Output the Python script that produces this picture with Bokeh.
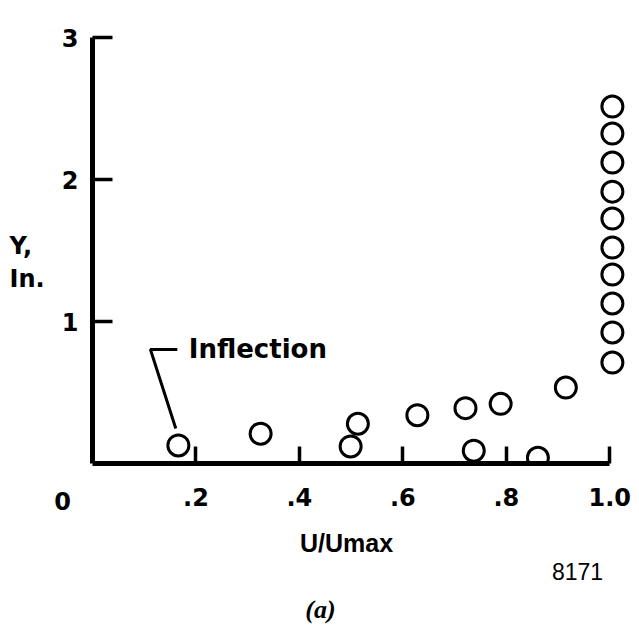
from bokeh.plotting import figure
from bokeh.models import Label, FixedTicker, Range1d
from bokeh.embed import file_html
from bokeh.resources import INLINE

# Data
u_ratio = [0.166, 0.325, 0.499, 0.513, 0.628, 0.721, 0.789, 0.737, 0.861, 0.915,
           1.005, 1.005, 1.005, 1.005, 1.005, 1.005, 1.005, 1.005, 1.005, 1.005]
y_in = [0.127, 0.21, 0.12, 0.28, 0.34, 0.39, 0.42, 0.09, 0.04, 0.535,
        0.711, 0.923, 1.127, 1.331, 1.521, 1.725, 1.915, 2.120, 2.324, 2.514]

x_ticks = [0.2, 0.4, 0.6, 0.8, 1.0]
x_tick_labels = [".2", ".4", ".6", ".8", "1.0"]
y_ticks = [1, 2, 3]

# Leader line of the "Inflection" note (data units)
leader_x = [0.164, 0.112, 0.161]
leader_y = [0.803, 0.803, 0.246]

p = figure(width=631, height=629, output_backend="svg", toolbar_location=None,
           x_range=Range1d(0, 1.04), y_range=Range1d(0, 3.05),
           min_border_left=92, min_border_right=1, min_border_top=30,
           min_border_bottom=166)
p.outline_line_color = None
p.xgrid.visible = False
p.ygrid.visible = False
p.background_fill_color = "white"
p.border_fill_color = "white"

for ax in (p.xaxis[0], p.yaxis[0]):
    ax.axis_line_width = 5
    ax.axis_line_color = "black"
    ax.major_tick_line_width = 3.5
    ax.major_tick_line_color = "black"
    ax.major_tick_out = 0
    ax.minor_tick_line_color = None
    ax.major_label_text_font = "DejaVu Sans"
    ax.major_label_text_font_style = "bold"
    ax.major_label_text_font_size = "24px"
    ax.major_label_text_color = "black"

p.xaxis[0].ticker = FixedTicker(ticks=x_ticks)
p.xaxis[0].major_label_overrides = {t: l for t, l in zip(x_ticks, x_tick_labels)}
p.xaxis[0].major_tick_in = 17
p.xaxis[0].major_label_standoff = 24
p.xaxis[0].bounds = (0, 1.0)

p.yaxis[0].ticker = FixedTicker(ticks=y_ticks)
p.yaxis[0].major_tick_in = 20
p.yaxis[0].major_label_standoff = 14
p.yaxis[0].bounds = (0, 3)

p.scatter(u_ratio, y_in, marker="circle", size=21, fill_color="white",
          line_color="black", line_width=3)

p.line(leader_x, leader_y, line_color="black", line_width=3)

p.add_layout(Label(x=0.186, y=0.81, text="Inflection", text_font="DejaVu Sans",
                   text_font_size="26px", text_font_style="bold",
                   text_align="left", text_baseline="middle", text_color="black"))

def side_label(side, x, y, text, font="DejaVu Sans", size="24px", style="bold",
               align="left", baseline="middle"):
    # texts outside the frame, placed on the canvas (pixels from top-left)
    p.add_layout(Label(x=x, y=y, x_units="canvas", y_units="canvas", text=text,
                       text_font=font, text_font_size=size,
                       text_font_style=style, text_align=align,
                       text_baseline=baseline, text_color="black"), side)

side_label("left", 9, 262, "Y,\nIn.")
side_label("above", 62, 500, "0", align="center")
side_label("below", 346, 542, "U/Umax", font="Liberation Sans", size="25px", align="center")
side_label("below", 577, 571, "8171", font="Liberation Sans", size="23px",
           style="normal", align="center")
side_label("below", 320, 609, "(a)", font="Liberation Serif", size="26px",
           style="bold italic", align="center")

open("out.html", "w").write(file_html(p, INLINE))
